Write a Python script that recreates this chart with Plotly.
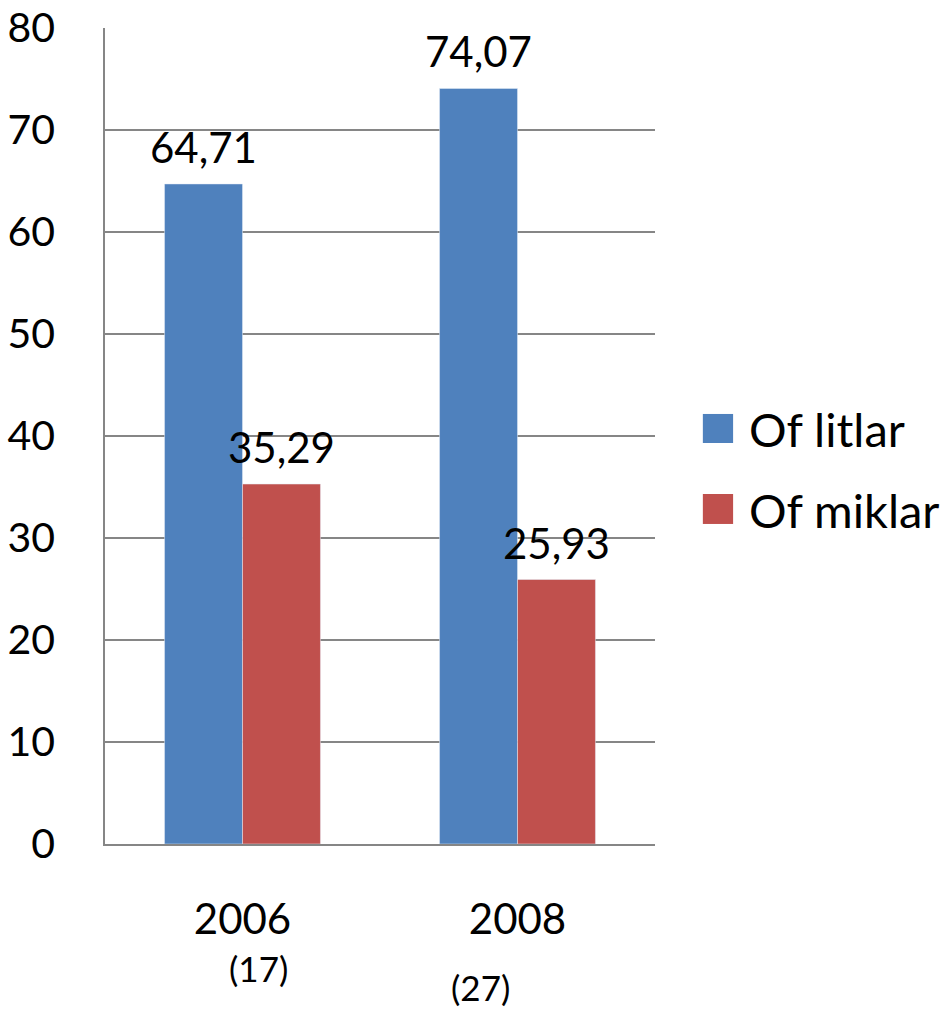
import plotly.graph_objects as go

categories = ["2006", "2008"]
sub_labels = ["(17)", "(27)"]
series_names = ["Of litlar", "Of miklar"]
litlar = [64.71, 74.07]
miklar = [35.29, 25.93]
colors = ["#4F81BD", "#C0504D"]
y_ticks = [0, 10, 20, 30, 40, 50, 60, 70, 80]

FONT = "Lato, 'Open Sans', sans-serif"
grid = "#868686"

fig = go.Figure()
for name, vals, col in zip(series_names, [litlar, miklar], colors):
    fig.add_trace(go.Bar(x=categories, y=vals, name=name, marker_color=col,
                         showlegend=False))

# value labels above bars (x given as category index)
shifts = [-39, 39]
for vals, xs in zip([litlar, miklar], shifts):
    for i, v in enumerate(vals):
        fig.add_annotation(x=i, y=v, text=f"{v:.2f}".replace(".", ","),
                           showarrow=False, xshift=xs, yshift=10, yanchor="bottom",
                           font=dict(family=FONT, size=42, color="black"))

# sub labels under categories
sub_pos = [(16, -0.152), (-37, -0.175)]
for i, (t, (xs, yp)) in enumerate(zip(sub_labels, sub_pos)):
    fig.add_annotation(x=i, y=yp, yref="paper", text=t, showarrow=False,
                       xshift=xs, yanchor="middle",
                       font=dict(family=FONT, size=35, color="black"))

# manual legend
leg_y = [(0.527, 0.4914, 0.5086), (0.4289, 0.3922, 0.4093)]
for name, col, (y0, y1, yt) in zip(series_names, colors, leg_y):
    fig.add_shape(type="rect", xref="paper", yref="paper", x0=1.087, x1=1.142,
                  y0=y1, y1=y0, fillcolor=col, line_width=0)
    fig.add_annotation(x=1.167, y=yt, xref="paper", yref="paper", text=name,
                       showarrow=False, xanchor="left", yanchor="middle",
                       font=dict(family=FONT, size=47, color="black"))

fig.update_layout(
    width=952, height=1010,
    margin=dict(l=105, r=297, t=28, b=166, autoexpand=False),
    paper_bgcolor="white", plot_bgcolor="white",
    barmode="group", bargap=0.433, bargroupgap=0,
    font=dict(family=FONT, color="black"),
    showlegend=False,
    xaxis=dict(type="category", range=[-0.5, 1.5], showline=True, linecolor=grid,
               linewidth=1.5, ticks="outside", ticklen=38, tickcolor="rgba(0,0,0,0)",
               tickfont=dict(size=42, family=FONT), automargin=False),
    yaxis=dict(range=[0, 80], tickvals=y_ticks, showgrid=True, gridcolor=grid,
               gridwidth=1.5, showline=True, linecolor=grid, linewidth=1.5,
               ticks="outside", ticklen=40, tickcolor="rgba(0,0,0,0)",
               ticklabeloverflow="allow",
               tickfont=dict(size=41, family=FONT), zeroline=False, automargin=False),
)

fig.write_html("out.html", config={"displayModeBar": False},
               post_script="document.body.style.margin='0';document.body.style.overflow='hidden';")
